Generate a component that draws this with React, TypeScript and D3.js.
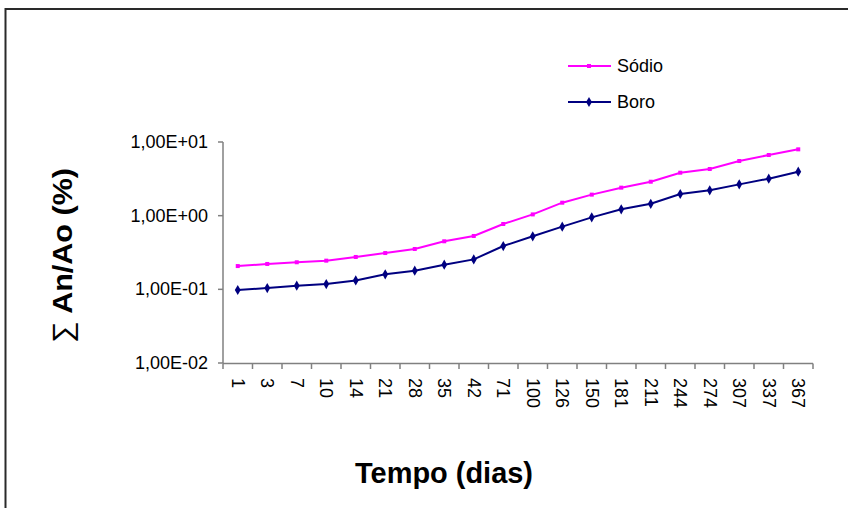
import React from "react";
import * as d3 from "d3";

const categories = ["1","3","7","10","14","21","28","35","42","71","100","126","150","181","211","244","274","307","337","367"];
const sodio = [0.207,0.221,0.233,0.245,0.275,0.311,0.353,0.449,0.530,0.771,1.04,1.50,1.93,2.40,2.89,3.83,4.30,5.52,6.66,7.95];
const boro = [0.098,0.104,0.112,0.118,0.132,0.160,0.179,0.216,0.255,0.387,0.525,0.709,0.949,1.22,1.45,1.97,2.21,2.66,3.18,3.95];
const yTicks = [0.01, 0.1, 1, 10];
const yTickLabels = ["1,00E-02", "1,00E-01", "1,00E+00", "1,00E+01"];
const seriesNames = ["Sódio", "Boro"];

const FONT = "'Liberation Sans', Arial, sans-serif";

export default function App() {
  const x = d3.scaleBand<string>().domain(categories).range([223, 813]);
  const y = d3.scaleLog().domain([0.01, 10]).range([363, 142]);
  const cx = (c: string) => (x(c) as number) + x.bandwidth() / 2;
  const line = d3
    .line<number>()
    .x((_, i) => cx(categories[i]))
    .y((d) => y(d));

  const boundaries = categories.map((c) => x(c) as number).concat([813]);
  const diamond = d3.symbol().type(d3.symbolDiamond).size(30)() as string;

  return (
    <div style={{ position: "absolute", left: 0, top: 0 }}>
      <svg width={848} height={508} style={{ display: "block", background: "#fff" }}>
        <rect x={5.5} y={9} width={900} height={600} fill="#fff" stroke="#2a2a2a" strokeWidth={2} />
        {/* Y axis */}
        <line x1={223} x2={223} y1={y(10)} y2={y(0.01)} stroke="#808080" strokeWidth={1.5} />
        {yTicks.map((t, i) => (
          <g key={t}>
            <line x1={218} x2={223} y1={y(t)} y2={y(t)} stroke="#808080" strokeWidth={1.5} />
            <text
              x={208}
              y={y(t)}
              textAnchor="end"
              dominantBaseline="central"
              fontFamily={FONT}
              fontSize={18}
              fill="#000"
            >
              {yTickLabels[i]}
            </text>
          </g>
        ))}
        {/* X axis */}
        <line x1={223} x2={813} y1={363.5} y2={363.5} stroke="#808080" strokeWidth={1.5} />
        {boundaries.map((b, i) => (
          <line key={i} x1={b} x2={b} y1={363.5} y2={369} stroke="#808080" strokeWidth={1.5} />
        ))}
        {categories.map((c) => (
          <text
            key={c}
            transform={`translate(${cx(c)},378) rotate(90)`}
            textAnchor="start"
            dominantBaseline="central"
            fontFamily={FONT}
            fontSize={18}
            fill="#000"
          >
            {c}
          </text>
        ))}
        {/* Lines */}
        <path d={line(sodio) as string} fill="none" stroke="#FF00FF" strokeWidth={2} />
        {sodio.map((v, i) => (
          <rect key={i} x={cx(categories[i]) - 2} y={y(v) - 2} width={4} height={4} fill="#FF00FF" />
        ))}
        <path d={line(boro) as string} fill="none" stroke="#000080" strokeWidth={2} />
        {boro.map((v, i) => (
          <path key={i} d={diamond} transform={`translate(${cx(categories[i])},${y(v)})`} fill="#000080" />
        ))}
        {/* Legend */}
        <line x1={568} x2={611} y1={66} y2={66} stroke="#FF00FF" strokeWidth={2} />
        <rect x={587} y={64} width={4} height={4} fill="#FF00FF" />
        <text x={617} y={66} dominantBaseline="central" fontFamily={FONT} fontSize={18} fill="#000">
          {seriesNames[0]}
        </text>
        <line x1={568} x2={611} y1={102} y2={102} stroke="#000080" strokeWidth={2} />
        <path d={diamond} transform="translate(589,102)" fill="#000080" />
        <text x={617} y={102} dominantBaseline="central" fontFamily={FONT} fontSize={18} fill="#000">
          {seriesNames[1]}
        </text>
        {/* Axis titles */}
        <text
          x={444}
          y={483}
          textAnchor="middle"
          fontFamily={FONT}
          fontWeight="bold"
          fontSize={29}
          textLength={178}
          lengthAdjust="spacingAndGlyphs"
          fill="#000"
        >
          Tempo (dias)
        </text>
        <text
          transform="translate(71.5,255.5) rotate(-90)"
          textAnchor="middle"
          fontFamily={FONT}
          fontWeight="bold"
          fontSize={28}
          textLength={175}
          lengthAdjust="spacingAndGlyphs"
          fill="#000"
        >
          <tspan fontWeight="normal">∑</tspan> An/Ao (%)
        </text>
      </svg>
    </div>
  );
}
